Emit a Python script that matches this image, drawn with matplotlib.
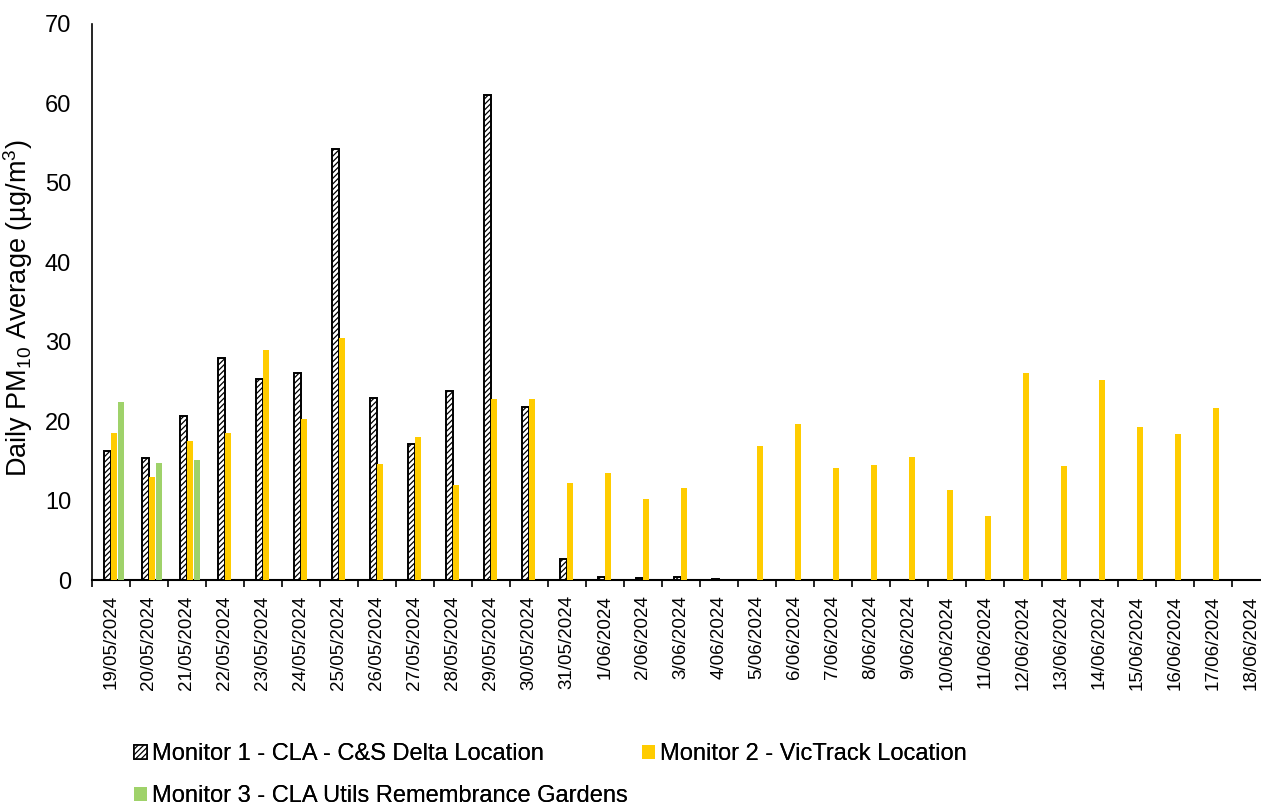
import matplotlib
matplotlib.use("Agg")
import matplotlib.pyplot as plt
from matplotlib.patches import Patch
import numpy as np

plt.rcParams['font.family'] = ['Liberation Sans', 'DejaVu Sans']
plt.rcParams['mathtext.default'] = 'regular'
plt.rcParams['hatch.linewidth'] = 0.9

nan = np.nan

# Data
dates = ['19/05/2024', '20/05/2024', '21/05/2024', '22/05/2024', '23/05/2024',
         '24/05/2024', '25/05/2024', '26/05/2024', '27/05/2024', '28/05/2024',
         '29/05/2024', '30/05/2024', '31/05/2024', '1/06/2024', '2/06/2024',
         '3/06/2024', '4/06/2024', '5/06/2024', '6/06/2024', '7/06/2024',
         '8/06/2024', '9/06/2024', '10/06/2024', '11/06/2024', '12/06/2024',
         '13/06/2024', '14/06/2024', '15/06/2024', '16/06/2024', '17/06/2024',
         '18/06/2024']

monitor1 = [16.2, 15.3, 20.6, 28.0, 25.3, 26.1, 54.2, 22.9, 17.1, 23.8,
            61.1, 21.8, 2.6, 0.35, 0.2, 0.35, 0.15, nan, nan, nan,
            nan, nan, nan, nan, nan, nan, nan, nan, nan, nan, nan]
monitor2 = [18.5, 13.0, 17.5, 18.5, 29.0, 20.3, 30.5, 14.6, 18.0, 12.0,
            22.8, 22.8, 12.2, 13.5, 10.2, 11.6, nan, 16.9, 19.6, 14.1,
            14.5, 15.5, 11.3, 8.0, 26.1, 14.3, 25.2, 19.3, 18.4, 21.7, nan]
monitor3 = [22.4, 14.7, 15.1] + [nan] * 28

labels = ['Monitor 1 - CLA - C&S Delta Location',
          'Monitor 2 - VicTrack Location',
          'Monitor 3 - CLA Utils Remembrance Gardens']

yellow = '#FFCC00'
green = '#9FD26A'

W, H = 1261, 805
fig = plt.figure(figsize=(W / 100, H / 100), dpi=100)
# axes runs slightly past the right edge, like the cropped original
ax = fig.add_axes([92 / W, (H - 580) / H, (1270 - 92) / W, (580 - 24) / H])

x = np.arange(len(dates))
bw = 0.165


def draw(vals, offset, **kw):
    v = np.array(vals, dtype=float)
    m = ~np.isnan(v)
    ax.bar(x[m] + offset, v[m], width=bw, **kw)


draw(monitor1, -0.095, facecolor='white', edgecolor='black', linewidth=1.4,
     hatch='//////', zorder=3)
draw(monitor2, 0.075, color=yellow, linewidth=0, zorder=3)
draw(monitor3, 0.26, color=green, linewidth=0, zorder=3)

ax.set_xlim(-0.5, len(dates) - 0.5)
ax.set_ylim(0, 70)
ax.set_yticks(np.arange(0, 71, 10))
ax.tick_params(axis='y', length=0, pad=15, labelsize=17)

ax.set_xticks(x)
ax.set_xticklabels(dates, rotation=90, fontsize=13.5)
ax.set_xticks(np.arange(-0.5, len(dates), 1), minor=True)
ax.tick_params(axis='x', which='major', length=0, pad=11)
ax.tick_params(axis='x', which='minor', length=5, width=1.2, direction='out')

for s in ['top', 'right']:
    ax.spines[s].set_visible(False)
ax.spines['left'].set_linewidth(1.2)
ax.spines['bottom'].set_linewidth(1.5)

ax.set_ylabel('Daily PM$_{10}$ Average (µg/m$^3$)', fontsize=19.5)
ax.yaxis.set_label_coords(-57 / (1270 - 92), 0.488)

h1 = Patch(facecolor='white', edgecolor='black', hatch='//////', linewidth=1.2)
h2 = Patch(facecolor=yellow, edgecolor='none')
h3 = Patch(facecolor=green, edgecolor='none')

# legend entries placed like the original (two on the first row, one below)
leg_items = [(h1, labels[0], 134, 754),
             (h2, labels[1], 642, 754),
             (h3, labels[2], 134, 796)]
for h, lab, lx, ly in leg_items:
    leg = fig.legend([h], [lab], frameon=False, fontsize=17,
                     loc='center left', bbox_to_anchor=(lx / W, (H - ly) / H),
                     borderpad=0, borderaxespad=0, handlelength=0.55,
                     handleheight=0.55, handletextpad=0.2)
    fig.add_artist(leg)

fig.savefig('out.png', dpi=100, facecolor='white')
